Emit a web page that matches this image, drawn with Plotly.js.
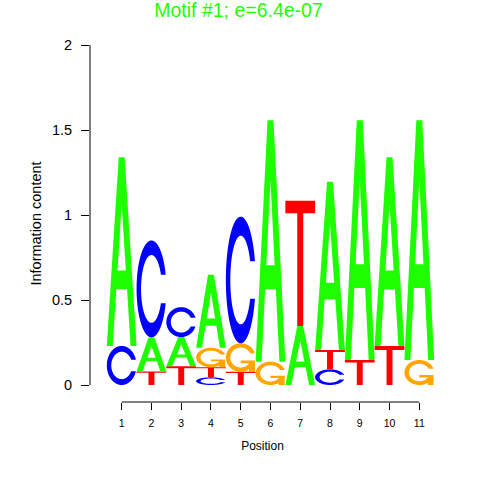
<!DOCTYPE html>
<html><head><meta charset="utf-8">
<script src="https://cdn.plot.ly/plotly-3.0.1.min.js"></script>
<style>html,body{margin:0;padding:0;background:#fff}#chart{width:480px;height:480px}</style>
</head><body><div id="chart"></div>
<script>
const positions = [1, 2, 3, 4, 5, 6, 7, 8, 9, 10, 11];
const heightA = [1.11, 0.20, 0.172, 0.43, 0, 1.42, 0.347, 0.99, 1.41, 1.11, 1.41];
const heightC = [0.23, 0.57, 0.176, 0.045, 0.745, 0, 0, 0.092, 0, 0, 0];
const heightG = [0, 0, 0, 0.114, 0.167, 0.137, 0, 0, 0, 0, 0.147];
const heightT = [0, 0.08, 0.11, 0.06, 0.078, 0, 0.737, 0.114, 0.147, 0.229, 0];
const letters = ['A', 'C', 'G', 'T'];
const yTickVals = [0, 0.5, 1, 1.5, 2];
const yTickText = ['0', '0.5', '1', '1.5', '2'];
const titleText = 'Motif #1; e=6.4e-07';

// ---- style ----
const colors = {A: '#1eff00', C: '#0000ff', G: '#ffa500', T: '#ff0000'};
const FONT = '"Liberation Sans", Arial, Helvetica, sans-serif';

// ---- glyph outlines in a unit box (seqLogo style) ----
function seq(a, b, n) { const r = []; for (let i = 0; i < n; i++) r.push(a + (b - a) * i / (n - 1)); return r; }
function ringC() {
  const a1 = seq(0.3 + Math.PI / 2, Math.PI, 100), a2 = seq(Math.PI, 1.5 * Math.PI, 100);
  const xl1 = a1.map(a => 0.5 + 0.5 * Math.sin(a)), yl1 = a1.map(a => 0.5 + 0.5 * Math.cos(a));
  const xl2 = a2.map(a => 0.5 + 0.5 * Math.sin(a)), yl2 = a2.map(a => 0.5 + 0.5 * Math.cos(a));
  const xl = xl1.concat(xl2), yl = yl1.concat(yl2);
  const x = xl.concat(xl.slice().reverse());
  const y = yl.concat(yl.slice().reverse().map(v => 1 - v));
  const maxY = Math.max(...yl1);
  let xi1 = a1.map(a => 0.5 + 0.35 * Math.sin(a)), yi1 = a1.map(a => 0.5 + 0.35 * Math.cos(a));
  const keep = yi1.map(v => v <= maxY);
  xi1 = xi1.filter((v, i) => keep[i]); yi1 = yi1.filter((v, i) => keep[i]);
  yi1[0] = maxY;
  const xi2 = a2.map(a => 0.5 + 0.35 * Math.sin(a)), yi2 = a2.map(a => 0.5 + 0.35 * Math.cos(a));
  const xi = xi1.concat(xi2), yi = yi1.concat(yi2);
  const x1 = xi.concat(xi.slice().reverse());
  const y1 = yi.concat(yi.slice().reverse().map(v => 1 - v));
  const X = x.concat(x1.slice().reverse()), Y = y.concat(y1.slice().reverse());
  return {pts: X.map((v, i) => [v, Y[i]]), r1: Math.max(...xl1)};
}
function glyph(letter) {
  const col = colors[letter];
  if (letter === 'A') {
    const ox = [0, 4, 6, 10, 8, 6.8, 3.2, 2, 0], oy = [0, 10, 10, 0, 0, 3, 3, 0, 0];
    const ix = [3.6, 5, 6.4, 3.6], iy = [4, 7.5, 4, 4];
    return [{pts: ox.map((v, i) => [v / 10, oy[i] / 10]), fill: col},
            {pts: ix.map((v, i) => [v / 10, iy[i] / 10]), fill: '#ffffff'}];
  }
  if (letter === 'T') {
    const tx = [0, 10, 10, 6, 6, 4, 4, 0], ty = [10, 10, 9, 9, 0, 0, 9, 9];
    return [{pts: tx.map((v, i) => [v / 10, ty[i] / 10]), fill: col}];
  }
  const ring = ringC();
  const parts = [{pts: ring.pts, fill: col}];
  if (letter === 'G') {
    const r1 = ring.r1, h1 = 0.4;
    const ax = [r1, 0.5, 0.5, r1 - 0.2, r1 - 0.2, r1, r1], ay = [h1, h1, h1 - 0.1, h1 - 0.1, 0, 0, h1];
    parts.push({pts: ax.map((v, i) => [v, ay[i]]), fill: col});
  }
  return parts;
}

const heights = {A: heightA, C: heightC, G: heightG, T: heightT};
const shapes = [];
const totals = [];
positions.forEach((pos, k) => {
  const stack = letters.map(L => ({L, h: heights[L][k]})).filter(d => d.h > 0).sort((a, b) => a.h - b.h);
  let base = 0;
  stack.forEach(d => {
    glyph(d.L).forEach(part => {
      const path = part.pts.map((p, i) => (i ? 'L' : 'M') + (pos - 0.5 + p[0]).toFixed(5) + ',' + (base + d.h * p[1]).toFixed(5)).join(' ') + ' Z';
      shapes.push({type: 'path', xref: 'x', yref: 'y', path, fillcolor: part.fill, fillrule: 'nonzero', line: {width: 0}, layer: 'above'});
    });
    base += d.h;
  });
  totals.push(base);
});
// axis lines limited to the data span, like R's axis()
shapes.push({type: 'line', xref: 'paper', yref: 'y', x0: 0, x1: 0, y0: yTickVals[0], y1: yTickVals[yTickVals.length - 1], line: {color: '#000', width: 1}});
shapes.push({type: 'line', xref: 'x', yref: 'paper', x0: positions[0], x1: positions[positions.length - 1], y0: 0, y1: 0, line: {color: '#000', width: 1}});

const data = [{x: positions, y: totals, type: 'scatter', mode: 'markers', marker: {opacity: 0}, hoverinfo: 'skip', showlegend: false}];

const layout = {
  width: 480, height: 480,
  margin: {l: 90, r: 45, t: 45, b: 78, pad: 0},
  paper_bgcolor: '#ffffff', plot_bgcolor: '#ffffff',
  showlegend: false,
  font: {family: FONT, color: '#000000'},
  title: {text: titleText, font: {family: FONT, size: 19.5, color: '#1eff00'},
          x: 238.5 / 480, xref: 'container', xanchor: 'center', y: 1 - 10.5 / 480, yref: 'container', yanchor: 'middle'},
  xaxis: {range: [-0.065, 11.528], tickmode: 'array', tickvals: positions, ticktext: positions.map(String),
          ticks: 'outside', ticklen: 7, tickwidth: 1, tickcolor: '#000', showline: false, showgrid: false, zeroline: false,
          tickfont: {family: FONT, size: 10.5, color: '#000'}, ticklabelstandoff: 4,
          title: {text: 'Position', font: {family: FONT, size: 12, color: '#000'}, standoff: 14}, automargin: true, fixedrange: true},
  yaxis: {range: [-0.1, 2], tickmode: 'array', tickvals: yTickVals, ticktext: yTickText,
          ticks: 'outside', ticklen: 8, tickwidth: 1, tickcolor: '#000', showline: false, showgrid: false, zeroline: false,
          tickfont: {family: FONT, size: 14.5, color: '#000'}, ticklabelstandoff: 6,
          title: {text: 'Information content', font: {family: FONT, size: 14.5, color: '#000'}, standoff: 6}, automargin: true, fixedrange: true},
  shapes
};
Plotly.newPlot('chart', data, layout, {displayModeBar: false, staticPlot: true});
</script>
</body></html>
